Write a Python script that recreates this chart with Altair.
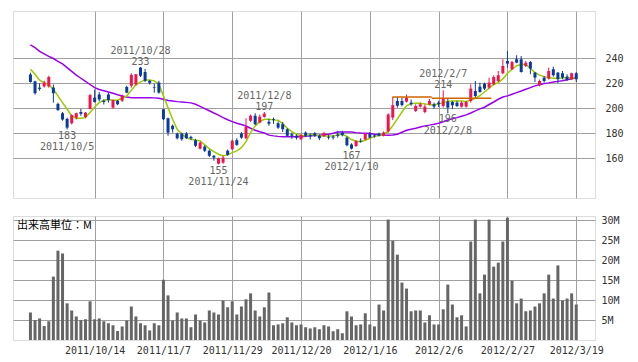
import altair as alt
import pandas as pd

# ---------------- data ----------------
opens = [227, 221.5, 216.5, 217.5, 217.5, 216.5, 203.5, 196, 191.5, 188,
         192.5, 197, 193, 199.5, 208.5, 211, 206, 211, 200.5, 206,
         206, 217, 218, 219.2, 232.5, 229, 222, 217, 220.5, 199.2,
         192, 186, 179.7, 179.7, 179.7, 177.1, 174.4, 167.7, 169.3, 166,
         162, 155.7, 156.5, 166, 167.2, 174.4, 179.7, 176, 190, 194,
         188.5, 193.1, 189.3, 191.2, 188, 187.2, 183.2, 179.2, 178, 175.2,
         180.5, 178.5, 180, 178, 177.8, 177.2, 177.2, 179, 180.5, 176.5,
         171, 169.8, 174, 175, 179.5, 178.2, 179.7, 178, 181.5, 192.5,
         205.8, 205.8, 205.3, 204.5, 197.8, 201.3, 197, 203.2, 203.2, 204.5,
         201.8, 205.3, 205, 204.5, 201.3, 201.3, 205.8, 213.8, 217.3, 219.7,
         216.5, 219.2, 221.8, 228, 237.8, 231.2, 239.2, 239.2, 233.8, 237,
         228.5, 218.4, 224.5, 223.7, 231.2, 228.5, 228, 225.3, 223.2, 228]
highs = [228.5, 222, 220, 222, 226, 219, 204.5, 197, 192.5, 195,
         196.5, 199.5, 197, 211.5, 215, 213, 207, 212.5, 207, 206.5,
         211, 218, 228, 227.5, 233, 231.5, 222.5, 219.7, 222, 199.5,
         192.5, 187, 180.5, 180.5, 181, 178, 175.5, 173.5, 170.4, 167,
         162.5, 160.5, 162, 167, 175, 176, 181, 192, 195, 196,
         195, 197, 191.5, 192.5, 189.5, 189, 184, 180.5, 179, 179.5,
         181.5, 180, 181, 179, 181, 178.5, 178.5, 181.5, 182, 177.5,
         172, 174.5, 176, 180, 181, 179.5, 180.5, 181.5, 196, 209,
         209, 208.5, 211, 207, 203.2, 204.5, 203, 207.5, 204.5, 206,
         214.4, 208, 205.8, 206, 205.5, 206, 219.2, 221.8, 220.5, 220.5,
         224.5, 226.4, 229.8, 239.2, 245.8, 237.8, 242.4, 241.8, 237.8, 237.8,
         229, 223, 225.8, 232.5, 233.3, 229, 229.8, 227.2, 228.5, 229]
lows = [220.5, 211, 214, 216.5, 216.5, 204.5, 198, 190, 183, 187,
        191, 194, 192, 199, 204.5, 205.5, 203, 204.5, 199.5, 202.5,
        205, 212, 216.5, 218, 225, 221, 219, 212.5, 211.7, 190.5,
        178, 180.5, 175, 174, 175.5, 174.5, 169, 167, 165, 161,
        158, 155, 155.5, 162, 166.5, 170, 175.5, 175.5, 189, 186.5,
        188, 192.5, 186, 187.5, 183.5, 181, 177, 175.5, 175, 174.5,
        177, 175, 177, 174.5, 177, 175, 175, 176.5, 177.5, 169.5,
        167, 169, 172.5, 174.5, 176, 176.5, 177.5, 177.5, 180.5, 190.5,
        200.5, 201.5, 204.5, 202, 197, 200.5, 196, 202.5, 199.5, 201,
        200.5, 196, 199.2, 201, 200.5, 200.5, 204.5, 208.5, 212.5, 214.6,
        215.5, 218.4, 221, 227.2, 232.5, 230.6, 236, 228.5, 233, 227.2,
        221, 217.6, 220.5, 223, 225.3, 220, 223.2, 221.8, 222.6, 221]
closes = [221, 212, 215.5, 220.5, 225, 212, 198.5, 191, 184.5, 194.5,
          196, 195.5, 196.5, 210.5, 205, 207, 205, 206.5, 206.5, 203.2,
          210, 212.5, 226.7, 227.2, 226, 222, 220.3, 216.5, 212.5, 191.2,
          180.5, 183.2, 176, 175.2, 176, 176, 170, 172.5, 166, 162,
          160.5, 160, 160.5, 162.7, 174, 170.7, 176.5, 185, 194, 187.2,
          193.3, 195.7, 187.7, 190.5, 184.5, 183.2, 178, 178, 176.5, 178.7,
          178, 177.5, 178, 176, 180, 176.5, 176.5, 178, 178.5, 170.4,
          167.7, 173.8, 173.3, 179.5, 176.5, 177.5, 178, 180.5, 195, 202.5,
          202, 202.6, 208.5, 203.2, 201.8, 203.2, 201.3, 205.8, 201.3, 203.2,
          207.7, 200.5, 202.4, 201.8, 204.5, 205, 215.7, 209.8, 213, 215.7,
          220.5, 225, 226.4, 233.8, 235.7, 237, 236.5, 229, 236.5, 231.7,
          224.5, 221.8, 221.8, 229.8, 226.4, 223.2, 224.5, 222.6, 228, 223.2]
volumes_m = [6.9, 5.0, 5.4, 3.5, 4.7, 15.9, 22.4, 21.7, 9.2, 7.4,
             5.9, 5.0, 5.2, 9.7, 5.2, 5.4, 4.7, 4.2, 3.7, 2.25,
             3.4, 4.9, 8.4, 5.9, 4.2, 3.7, 2.4, 4.2, 3.7, 15.1,
             11.2, 4.9, 6.9, 5.4, 5.4, 3.2, 6.4, 4.9, 4.4, 7.4,
             6.9, 6.4, 9.9, 8.2, 9.7, 6.4, 8.4, 10.2, 11.7, 7.4,
             5.9, 8.2, 11.9, 3.7, 3.9, 4.2, 5.7, 4.4, 3.7, 3.9,
             3.2, 2.9, 3.2, 2.7, 3.7, 3.4, 2.2, 2.7, 1.7, 7.2,
             5.9, 3.7, 3.9, 6.7, 3.9, 3.4, 8.9, 7.4, 30.2, 24.9,
             21.4, 14.4, 12.9, 7.2, 7.4, 7.4, 4.4, 6.2, 3.9, 3.9,
             7.7, 13.9, 8.9, 5.7, 6.2, 3.4, 24.7, 30.2, 11.7, 16.4,
             30.2, 18.4, 19.4, 24.7, 30.7, 14.9, 9.2, 10.4, 7.2, 7.4,
             8.4, 9.2, 11.7, 16.4, 10.4, 18.7, 9.9, 10.4, 11.7, 8.9]
ma_short = [231.2, 227.2, 222.4, 220.5, 218.7, 215.2, 209.9, 204.5, 199.2, 193.9,
            192, 192, 192.5, 196.5, 201, 204.5, 206.4, 206.9, 206.4, 206.4,
            208, 209.9, 214.4, 218.7, 221.1, 222.7, 222.7, 221.9, 219.2, 209.9,
            200.5, 191.2, 183.2, 179.2, 176.5, 175.2, 174.4, 173.9, 170.7, 167.7,
            165.3, 163.2, 161.9, 162.7, 164.5, 165.9, 168.5, 173.3, 180.5, 185.9,
            189.3, 191.2, 191.2, 190.7, 190.4, 187.7, 184, 181.3, 179.2, 177.9,
            178.4, 178.7, 178.9, 177.9, 177.9, 177.9, 177.9, 178.5, 179.2, 177.5,
            175, 173.6, 173.3, 174.4, 176, 177.5, 178.2, 179.2, 181.5, 186,
            191.5, 197, 201.9, 203.7, 204, 204, 203.5, 202.9, 202.9, 203.5,
            204.5, 205.5, 205.9, 205.9, 205.9, 205.3, 206.5, 208, 210, 213,
            216, 219, 220.5, 223.5, 228, 231.2, 234, 235, 235, 232,
            228.5, 226.5, 225.3, 224.5, 224, 224, 224.2, 224.5, 224.3, 224]
ma_long = [250.7, 248.5, 245.5, 243.5, 241.5, 239.8, 237.5, 235.5, 232.5, 229.5,
           226.5, 224, 221.5, 219, 216.5, 215, 214, 213, 212, 210.8,
           209.8, 209, 208.5, 208.5, 208.5, 208.5, 208.5, 208.3, 208, 207.2,
           206.2, 205.8, 205.3, 205, 204.7, 204.3, 203.2, 201.5, 199.7, 198,
           196.2, 194.5, 192.5, 190.8, 189.3, 188, 187, 185.8, 184, 182.4,
           181.2, 180.2, 178.5, 177.9, 177.5, 177.3, 177.3, 177.3, 177.3, 177.3,
           177.5, 177.9, 178.2, 178.4, 178.8, 179.2, 180, 181, 181.1, 181.1,
           181, 180.5, 180.2, 180, 179.8, 179.2, 178.8, 178.5, 178.4, 178.6,
           179.2, 180.8, 182.4, 183.2, 184, 185, 185.9, 186.5, 187.2, 188,
           189.2, 190.6, 191.6, 192.5, 193.6, 194.7, 196.2, 197.9, 199.5, 200.8,
           203, 205, 207.2, 209, 209.9, 211.2, 212.5, 213.8, 215.2, 216.5,
           217.9, 218.8, 219.7, 220.3, 221, 221.5, 222, 222.8, 223.6, 224.5]

tick_idx = [14, 29, 44, 59, 74, 89, 104, 119]
tick_labels = ["2011/10/14", "2011/11/7", "2011/11/29", "2011/12/20",
               "2012/1/16", "2012/2/6", "2012/2/27", "2012/3/19"]

hi_idx = [24, 51, 90]
hi_val = [233, 197, 214]
hi_date = ["2011/10/28", "2011/12/8", "2012/2/7"]
lo_idx = [8, 41, 70, 91]
lo_val = [183, 155, 167, 196]
lo_date = ["2011/10/5", "2011/11/24", "2012/1/10", "2012/2/8"]

seg_start = [78.9, 87.5]
seg_end = [87.5, 100.5]
seg_val = [209, 208]

price_ticks = [160, 180, 200, 220, 240]
vol_ticks = [5, 10, 15, 20, 25, 30]

# ---------------- build tables ----------------
n = len(closes)
df = pd.DataFrame({
    "i": list(range(n)),
    "open": opens, "high": highs, "low": lows, "close": closes,
    "vol": volumes_m, "ma_s": ma_short, "ma_l": ma_long,
})
df["dir"] = ["up" if c >= o else "down" for o, c in zip(opens, closes)]
hi_df = pd.DataFrame({"i": hi_idx, "p": hi_val, "v": [str(v) for v in hi_val], "d": hi_date})
lo_df = pd.DataFrame({"i": lo_idx, "p": lo_val, "v": [str(v) for v in lo_val], "d": lo_date})
seg_df = pd.DataFrame({"x1": seg_start, "x2": seg_end, "y": seg_val})

RED = "#f2134a"
BLUE = "#0b3a9e"
GRID = "#a0a0a0"
FONT = "DejaVu Sans Mono"

xscale = alt.Scale(domain=[-2.71, 122], nice=False, zero=False)
pscale = alt.Scale(domain=[128.2, 277.8], nice=False, zero=False)
label_expr = "[" + ",".join("'%s'" % t for t in tick_labels) + "][round((datum.value-14)/15)]"

x_price = alt.X("i:Q", scale=xscale,
                axis=alt.Axis(values=tick_idx, labels=False, ticks=False, domain=False,
                              grid=True, gridColor=GRID, title=None))
col = alt.Color("dir:N", scale=alt.Scale(domain=["up", "down"], range=[RED, BLUE]), legend=None)

base = alt.Chart(df)
y_axis = alt.Axis(orient="right", values=price_ticks, grid=True, gridColor=GRID, ticks=False,
                  domain=False, labelPadding=10, labelFont=FONT, labelFontSize=10,
                  labelColor="#333333", title=None)

purple = base.mark_line(color="#9a00f0", strokeWidth=1.5).encode(
    x=x_price, y=alt.Y("ma_l:Q", scale=pscale, axis=y_axis))
green = base.mark_line(color="#99cc00", strokeWidth=1.5).encode(
    x=x_price, y=alt.Y("ma_s:Q", scale=pscale))
wick = base.mark_rule(strokeWidth=1).encode(
    x=x_price, y=alt.Y("low:Q", scale=pscale), y2="high:Q", color=col)
body = base.mark_bar(size=3).encode(
    x=x_price, y=alt.Y("open:Q", scale=pscale), y2="close:Q", color=col)
segs = alt.Chart(seg_df).mark_rule(color="#cc6600", strokeWidth=1.5).encode(
    x=alt.X("x1:Q", scale=xscale), x2="x2:Q", y=alt.Y("y:Q", scale=pscale))

tstyle = dict(font=FONT, fontSize=10, color="#666666", baseline="middle", align="center")
hi_v = alt.Chart(hi_df).mark_text(dy=-5.5, **tstyle).encode(
    x=alt.X("i:Q", scale=xscale), y=alt.Y("p:Q", scale=pscale), text="v:N")
hi_d = alt.Chart(hi_df).mark_text(dy=-16.5, **tstyle).encode(
    x=alt.X("i:Q", scale=xscale), y=alt.Y("p:Q", scale=pscale), text="d:N")
lo_v = alt.Chart(lo_df).mark_text(dy=6, **tstyle).encode(
    x=alt.X("i:Q", scale=xscale), y=alt.Y("p:Q", scale=pscale), text="v:N")
lo_d = alt.Chart(lo_df).mark_text(dy=17.5, **tstyle).encode(
    x=alt.X("i:Q", scale=xscale), y=alt.Y("p:Q", scale=pscale), text="d:N")

price = alt.layer(purple, green, wick, body, segs, hi_v, hi_d, lo_v, lo_d).properties(
    width=582, height=187)

x_vol = alt.X("i:Q", scale=xscale,
              axis=alt.Axis(values=tick_idx, labelExpr=label_expr, ticks=False, domain=False,
                            grid=True, gridColor=GRID, labelPadding=5, labelFont=FONT,
                            labelFontSize=10, labelColor="#333333", labelOverlap=False,
                            labelBound=False, labelFlush=False, title=None))
vbars = base.mark_bar(size=3, color="#666666").encode(
    x=x_vol,
    y=alt.Y("vol:Q", scale=alt.Scale(domain=[0, 31.1], nice=False),
            axis=alt.Axis(orient="right", values=vol_ticks, labelExpr="datum.value + 'M'",
                          grid=True, gridColor=GRID, ticks=False, domain=False,
                          labelPadding=6, labelFont=FONT, labelFontSize=10,
                          labelColor="#333333", title=None)))
vtitle = alt.Chart(pd.DataFrame({"t": ["出来高単位：M"]})).mark_text(
    align="left", baseline="middle", font="Noto Sans CJK JP", fontSize=11, color="#000000"
).encode(x=alt.value(4), y=alt.value(10), text="t:N")

volume = alt.layer(vbars, vtitle).properties(width=582, height=124)

chart = alt.vconcat(price, volume, spacing=15).properties(
    padding={"left": 4, "top": 2, "right": 0, "bottom": 0}
).configure_view(stroke="#999999", strokeWidth=1).configure(background="white")

chart.save("out.html", embed_options={"renderer": "svg", "actions": False})
